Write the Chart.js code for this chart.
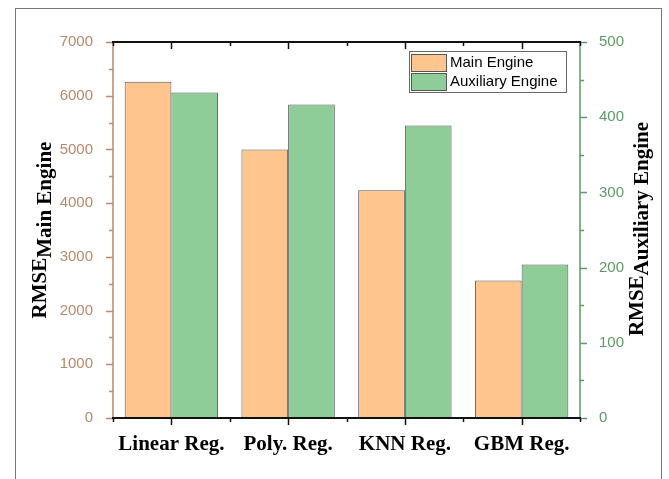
<!DOCTYPE html>
<html>
<head>
<meta charset="utf-8">
<script src="https://cdn.jsdelivr.net/npm/chart.js@4.4.1/dist/chart.umd.min.js"></script>
<style>
  html, body { margin: 0; padding: 0; background: #fff; }
  #wrap { position: relative; width: 669px; height: 479px; overflow: hidden; }
  #frame { position: absolute; left: 15px; top: 8px; width: 647px; height: 500px;
           border: 1px solid #777; box-sizing: border-box; }
  canvas { position: absolute; left: 0; top: 0; }
</style>
</head>
<body>
<div id="wrap">
  <div id="frame"></div>
  <canvas id="c" width="669" height="479"></canvas>
</div>
<script>
// Regression models compared
const categories = ['Linear Reg.', 'Poly. Reg.', 'KNN Reg.', 'GBM Reg.'];
// RMSE of each model
const mainEngine = [6260, 5000, 4240, 2560];
const auxEngine = [433, 417, 389, 204];
// Axis tick values
const leftTicks = [0, 1000, 2000, 3000, 4000, 5000, 6000, 7000];
const rightTicks = [0, 100, 200, 300, 400, 500];

const BROWN = '#b8896a';
const GREEN_AX = '#5e9a68';
const ORANGE = '#fec68e';
const GREEN = '#8ecc98';

// Axis lines, major/minor ticks, subscripted titles and a boxed legend
const decor = {
  id: 'decor',
  afterDraw(chart) {
    const ctx = chart.ctx;
    const a = chart.chartArea;
    const x = chart.scales.x, y = chart.scales.y, y2 = chart.scales.y2;
    ctx.save();

    // left axis (brown)
    ctx.strokeStyle = BROWN; ctx.lineWidth = 1.5;
    ctx.beginPath(); ctx.moveTo(a.left, a.top); ctx.lineTo(a.left, a.bottom); ctx.stroke();
    for (let v = 0; v <= 7000; v += 500) {
      const py = Math.round(y.getPixelForValue(v)) + 0.5;
      const len = (v % 1000 === 0) ? 7 : 4;
      ctx.beginPath(); ctx.moveTo(a.left - len, py); ctx.lineTo(a.left, py); ctx.stroke();
    }
    // right axis (green)
    ctx.strokeStyle = GREEN_AX;
    ctx.beginPath(); ctx.moveTo(a.right, a.top); ctx.lineTo(a.right, a.bottom); ctx.stroke();
    for (let v = 0; v <= 500; v += 50) {
      const py = Math.round(y2.getPixelForValue(v)) + 0.5;
      const len = (v % 100 === 0) ? 7 : 4;
      ctx.beginPath(); ctx.moveTo(a.right, py); ctx.lineTo(a.right + len, py); ctx.stroke();
    }

    // bottom and top axes (black)
    ctx.strokeStyle = '#111'; ctx.lineWidth = 2;
    ctx.beginPath(); ctx.moveTo(a.left - 1, a.bottom); ctx.lineTo(a.right + 1, a.bottom); ctx.stroke();
    ctx.beginPath(); ctx.moveTo(a.left - 1, a.top); ctx.lineTo(a.right + 1, a.top); ctx.stroke();
    ctx.lineWidth = 1.5;
    for (let i = -0.5; i <= categories.length - 0.5; i += 0.5) {
      const px = Math.round(x.getPixelForValue(i)) + 0.5;
      const major = Number.isInteger(i);
      const len = major ? 7 : 4;
      ctx.beginPath(); ctx.moveTo(px, a.bottom); ctx.lineTo(px, a.bottom + len); ctx.stroke();
      ctx.beginPath(); ctx.moveTo(px, a.top); ctx.lineTo(px, a.top + len); ctx.stroke();
    }

    // axis titles with subscripts
    const drawTitle = (cx, cy, main, sub) => {
      ctx.save();
      ctx.translate(cx, cy);
      ctx.rotate(-Math.PI / 2);
      ctx.fillStyle = '#000';
      ctx.textBaseline = 'middle';
      ctx.font = 'bold 21px "Liberation Serif", "Times New Roman", serif';
      const w1 = ctx.measureText(main).width;
      const w2 = ctx.measureText(sub).width;
      const start = -(w1 + w2) / 2;
      ctx.textAlign = 'left';
      ctx.fillText(main, start, 0);
      ctx.fillText(sub, start + w1, 5);
      ctx.restore();
    };
    drawTitle(41, 230, 'RMSE', 'Main Engine');
    drawTitle(638, 229, 'RMSE', 'Auxiliary Engine');

    // legend
    const lx = 409, ly = 51, lw = 157, lh = 41;
    ctx.fillStyle = '#fff';
    ctx.fillRect(lx, ly, lw, lh);
    ctx.strokeStyle = '#666'; ctx.lineWidth = 1;
    ctx.strokeRect(lx + 0.5, ly + 0.5, lw, lh);
    ctx.font = '15px "Liberation Sans", Arial, sans-serif';
    ctx.textAlign = 'left'; ctx.textBaseline = 'middle';
    chart.data.datasets.forEach((ds, i) => {
      const sy = ly + 3 + i * 19;
      ctx.fillStyle = ds.backgroundColor;
      ctx.fillRect(lx + 2, sy, 35, 17);
      ctx.strokeStyle = '#555';
      ctx.strokeRect(lx + 2.5, sy + 0.5, 35, 17);
      ctx.fillStyle = '#000';
      ctx.fillText(ds.label, lx + 41, sy + 9);
    });
    ctx.restore();
  }
};

const plain = v => String(v);

new Chart(document.getElementById('c'), {
  type: 'bar',
  data: {
    labels: categories,
    datasets: [
      { label: 'Main Engine', data: mainEngine, yAxisID: 'y',
        backgroundColor: ORANGE, borderColor: '#5a5a5a', borderWidth: 1 },
      { label: 'Auxiliary Engine', data: auxEngine, yAxisID: 'y2',
        backgroundColor: GREEN, borderColor: '#5a5a5a', borderWidth: 1 }
    ]
  },
  options: {
    responsive: false,
    animation: false,
    devicePixelRatio: 1,
    layout: { padding: { top: 42, left: 0, right: 0, bottom: 0 } },
    plugins: { legend: { display: false }, tooltip: { enabled: false } },
    datasets: { bar: { categoryPercentage: 0.8, barPercentage: 1.0 } },
    scales: {
      x: {
        type: 'category',
        grid: { display: false }, border: { display: false },
        ticks: { color: '#000', padding: 6, maxRotation: 0,
                 font: { family: '"Liberation Serif", "Times New Roman", serif', size: 21, weight: 'bold' } },
        afterFit(s) { s.height = 61; }
      },
      y: {
        position: 'left', min: 0, max: 7000,
        grid: { display: false }, border: { display: false },
        afterBuildTicks(s) { s.ticks = leftTicks.map(v => ({ value: v })); },
        ticks: { color: BROWN, padding: 12, callback: plain,
                 font: { family: '"Liberation Sans", Arial, sans-serif', size: 15 } },
        afterFit(s) { s.width = 113; }
      },
      y2: {
        position: 'right', min: 0, max: 500,
        grid: { display: false }, border: { display: false },
        afterBuildTicks(s) { s.ticks = rightTicks.map(v => ({ value: v })); },
        ticks: { color: GREEN_AX, padding: 11, callback: plain,
                 font: { family: '"Liberation Sans", Arial, sans-serif', size: 15 } },
        afterFit(s) { s.width = 89; }
      }
    }
  },
  plugins: [decor]
});
</script>
</body>
</html>
